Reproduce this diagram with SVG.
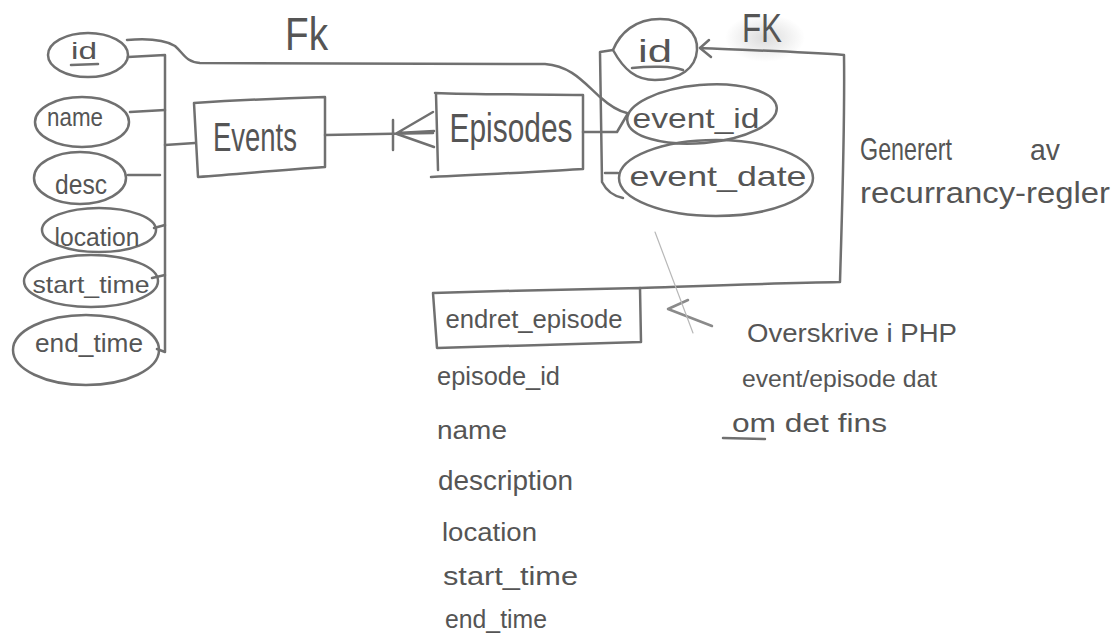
<svg xmlns="http://www.w3.org/2000/svg" width="1115" height="634" viewBox="0 0 1115 634">
  <defs>
    <style>
      .ln{fill:none;stroke:#707070;stroke-width:2.5;stroke-linecap:round;stroke-linejoin:round}
      .faint{fill:none;stroke:#b8b8b8;stroke-width:1.2;stroke-linecap:round}
      .t{font-family:"Liberation Sans","DejaVu Sans",sans-serif;fill:#555555}
      .m{text-anchor:middle}
    </style>
    <radialGradient id="smudge" cx="0.5" cy="0.5" r="0.5">
      <stop offset="0" stop-color="#9a9a9a" stop-opacity="0.35"/>
      <stop offset="1" stop-color="#9a9a9a" stop-opacity="0"/>
    </radialGradient>
  </defs>

  <rect width="1115" height="634" fill="#ffffff"/>

  <!-- pencil smudge around the right FK note -->
  <ellipse cx="765" cy="38" rx="40" ry="24" fill="url(#smudge)"/>

  <!-- connectors -->
  <g id="connectors">
    <!-- Events attribute spine -->
    <path class="ln" d="M128,57 L165,55 L165,352 L157,349"/>
    <path class="ln" d="M130,112 L165,110"/>
    <path class="ln" d="M128,175 L160,175"/>
    <path class="ln" d="M154,228 L165,225"/>
    <path class="ln" d="M152,278 L165,275"/>
    <path class="ln" d="M165,145 L195,143"/>
    <!-- Events to Episodes, one-to-many -->
    <path class="ln" d="M325,135 L433,133"/>
    <path class="ln" d="M393,120 L393,150"/>
    <path class="ln" d="M397,133 L433,112 M397,133 L434,131 M397,134 L434,147"/>
    <!-- FK: events.id to episodes.event_id -->
    <path class="ln" d="M127,40 C150,38 165,40 175,46 C184,54 186,62 200,63 L545,64 C572,66 585,84 600,97 C610,106 618,111 627,113"/>
    <!-- Episodes attribute spine -->
    <path class="ln" d="M613,50 L600,52 L602,182 C606,190 613,196 623,198"/>
    <path class="ln" d="M583,132 L617,132 L627,115"/>
    <path class="ln" d="M605,173 L618,173"/>
    <!-- FK loop back to episodes.id, generated by recurrence rules -->
    <path class="ln" d="M700,48 C740,50 790,51 844,55 C845,130 842,210 840,282 C780,283 700,286 640,288"/>
    <path class="ln" d="M709,40 L700,48 L711,57"/>
    <!-- arrow from the PHP override note -->
    <path class="ln" d="M688,300 L668,309 L712,326" style="stroke:#8a8a8a"/>
    <path class="faint" d="M655,232 L693,333"/>
  </g>

  <!-- Events entity -->
  <g id="events">
    <path class="ln" d="M194,103 C240,100 290,98 325,97 L325,167 C280,170 240,174 198,177 Z"/>
    <text class="t m" x="255" y="151" font-size="40" textLength="84" lengthAdjust="spacingAndGlyphs">Events</text>
  </g>

  <g id="events-id">
    <ellipse class="ln" cx="88" cy="55" rx="40" ry="22"/>
    <text class="t m" x="84" y="59" font-size="24" textLength="26" lengthAdjust="spacingAndGlyphs">id</text>
    <path class="ln" d="M71,65 L98,64"/>
  </g>
  <g id="events-name">
    <ellipse class="ln" cx="82" cy="122" rx="47" ry="25"/>
    <text class="t m" x="75" y="126" font-size="26" textLength="56" lengthAdjust="spacingAndGlyphs">name</text>
  </g>
  <g id="events-desc">
    <ellipse class="ln" cx="80" cy="178" rx="46" ry="26"/>
    <text class="t m" x="81" y="194" font-size="28" textLength="52" lengthAdjust="spacingAndGlyphs">desc</text>
  </g>
  <g id="events-location">
    <ellipse class="ln" cx="99" cy="230" rx="57" ry="22"/>
    <text class="t m" x="97" y="246" font-size="26" textLength="85" lengthAdjust="spacingAndGlyphs">location</text>
  </g>
  <g id="events-start_time">
    <ellipse class="ln" cx="91" cy="281" rx="67" ry="26"/>
    <text class="t m" x="91" y="293" font-size="24" textLength="117" lengthAdjust="spacingAndGlyphs">start_time</text>
  </g>
  <g id="events-end_time">
    <ellipse class="ln" cx="86" cy="350" rx="73" ry="35"/>
    <text class="t m" x="89" y="352" font-size="26" textLength="108" lengthAdjust="spacingAndGlyphs">end_time</text>
  </g>

  <!-- Episodes entity -->
  <g id="episodes">
    <path class="ln" d="M435,93 C480,95 540,94 583,95 L583,169 C530,172 480,175 431,177 M436,94 L438,170"/>
    <text class="t m" x="511" y="142" font-size="40" textLength="123" lengthAdjust="spacingAndGlyphs">Episodes</text>
  </g>

  <g id="episodes-id">
    <path class="ln" d="M613,50 C620,33 635,19 660,19 C685,19 698,34 697,50 C696,68 680,80 655,80 C636,80 624,70 613,50 Z"/>
    <text class="t m" x="655" y="62" font-size="32" textLength="34" lengthAdjust="spacingAndGlyphs">id</text>
    <path class="ln" d="M632,68 C650,66 672,66 683,70"/>
  </g>
  <g id="episodes-event_id">
    <ellipse class="ln" cx="702" cy="114" rx="75" ry="29" transform="rotate(-5 702 114)"/>
    <text class="t m" x="696" y="128" font-size="28" textLength="127" lengthAdjust="spacingAndGlyphs">event_id</text>
  </g>
  <g id="episodes-event_date">
    <ellipse class="ln" cx="716" cy="178" rx="97" ry="38"/>
    <text class="t m" x="718" y="186" font-size="28" textLength="177" lengthAdjust="spacingAndGlyphs">event_date</text>
  </g>

  <!-- endret_episode table -->
  <g id="endret_episode">
    <path class="ln" d="M433,293 C500,291 580,289 640,288 L641,342 C580,344 500,346 437,348 Z"/>
    <text class="t m" x="534" y="328" font-size="26" textLength="177" lengthAdjust="spacingAndGlyphs">endret_episode</text>
    <text class="t" x="437" y="385" font-size="26" textLength="123" lengthAdjust="spacingAndGlyphs">episode_id</text>
    <text class="t" x="437" y="439" font-size="26" textLength="70" lengthAdjust="spacingAndGlyphs">name</text>
    <text class="t" x="438" y="490" font-size="28" textLength="135" lengthAdjust="spacingAndGlyphs">description</text>
    <text class="t" x="442" y="541" font-size="26" textLength="95" lengthAdjust="spacingAndGlyphs">location</text>
    <text class="t" x="443" y="585" font-size="26" textLength="135" lengthAdjust="spacingAndGlyphs">start_time</text>
    <text class="t" x="445" y="628" font-size="26" textLength="102" lengthAdjust="spacingAndGlyphs">end_time</text>
  </g>

  <!-- notes -->
  <g id="notes">
    <text class="t" x="285" y="50" font-size="46" textLength="43" lengthAdjust="spacingAndGlyphs">Fk</text>
    <text class="t" x="742" y="42" font-size="40" textLength="40" lengthAdjust="spacingAndGlyphs">FK</text>
    <text class="t" x="860" y="160" font-size="32" textLength="92" lengthAdjust="spacingAndGlyphs">Generert</text>
    <text class="t" x="1030" y="160" font-size="30" textLength="30" lengthAdjust="spacingAndGlyphs">av</text>
    <text class="t" x="860" y="203" font-size="30" textLength="250" lengthAdjust="spacingAndGlyphs">recurrancy-regler</text>
    <text class="t" x="747" y="342" font-size="26" textLength="210" lengthAdjust="spacingAndGlyphs">Overskrive i PHP</text>
    <text class="t" x="742" y="387" font-size="24" textLength="195" lengthAdjust="spacingAndGlyphs">event/episode dat</text>
    <text class="t" x="732" y="432" font-size="26" textLength="155" lengthAdjust="spacingAndGlyphs">om det fins</text>
    <path class="ln" d="M723,438 L765,439"/>
  </g>
</svg>
